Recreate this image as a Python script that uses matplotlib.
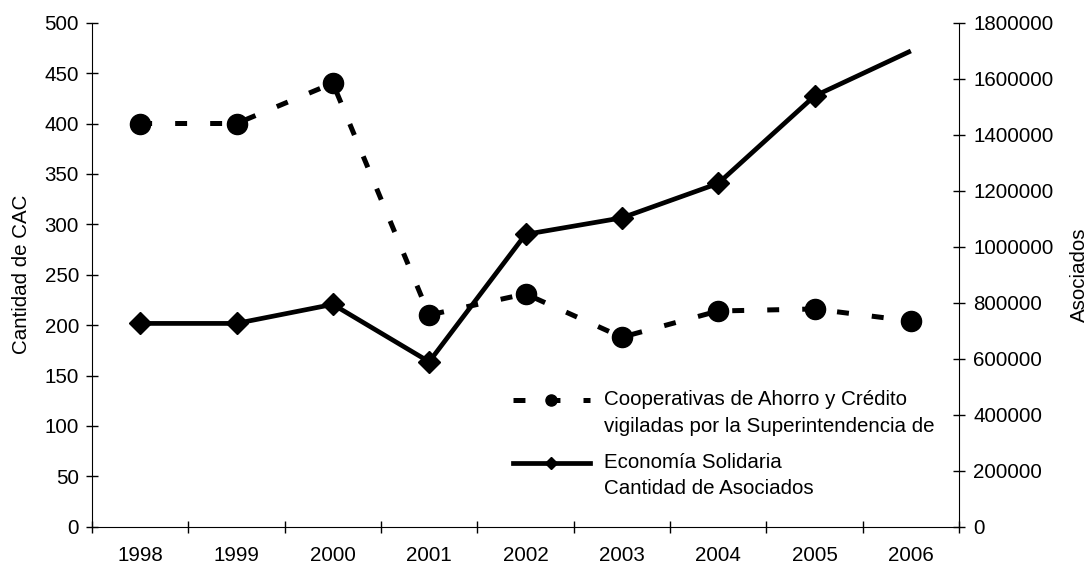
import matplotlib
matplotlib.use("Agg")
import matplotlib.pyplot as plt
from matplotlib.lines import Line2D
import numpy as np

plt.rcParams["font.family"] = ["Liberation Sans", "DejaVu Sans"]
plt.rcParams["font.size"] = 14.8
plt.rcParams["lines.scale_dashes"] = False

years = ["1998", "1999", "2000", "2001", "2002", "2003", "2004", "2005", "2006"]
cac_count = [400, 400, 440, 210, 231, 188, 214, 216, 204]
associates = [726000, 726000, 794000, 589000, 1044000, 1103000, 1226000, 1538000, 1699000]

label_cac = "Cooperativas de Ahorro y Crédito\nvigiladas por la Superintendencia de"
label_asoc = "Economía Solidaria\nCantidad de Asociados"

fig = plt.figure(figsize=(10.89, 5.67), dpi=100)
ax = fig.add_axes([92 / 1089, 1 - 526.7 / 567, (959 - 92) / 1089, (526.7 - 22.7) / 567])
ax2 = ax.twinx()

x = np.arange(len(years))
dash = (0, (8.6, 16.6))

ax.plot(x, cac_count, color="black", lw=3.6, linestyle=dash,
        marker="o", markersize=14.5, zorder=3)
ax2.plot(x, associates, color="black", lw=3.4, solid_capstyle="butt",
         marker="D", markersize=11.5, markevery=list(range(len(years) - 1)), zorder=3)

ax.set_xlim(-0.5, len(years) - 0.5)
ax.set_ylim(0, 500)
ax.set_yticks(np.arange(0, 501, 50))
ax2.set_ylim(0, 1800000)
ax2.set_yticks(np.arange(0, 1800001, 200000))
ax2.set_yticklabels([f"{v:d}" for v in range(0, 1800001, 200000)])

ax.set_xticks(np.arange(-0.5, len(years), 1.0))
ax.set_xticklabels([])
ax.set_xticks(x, minor=True)
ax.set_xticklabels(years, minor=True)
ax.tick_params(axis="x", which="major", direction="inout", length=12 * 0.72, width=1)
ax.tick_params(axis="x", which="minor", length=0, pad=14)
ax.tick_params(axis="y", direction="inout", length=12 * 0.72, width=1, pad=5)
ax2.tick_params(axis="y", direction="inout", length=12 * 0.72, width=1, pad=6)

for a in (ax, ax2):
    a.spines["top"].set_visible(False)
    a.patch.set_visible(False)
ax.spines["right"].set_visible(False)
ax2.spines["left"].set_visible(False)
ax2.spines["bottom"].set_visible(False)

ax.set_ylabel("Cantidad de CAC", labelpad=10)
ax2.set_ylabel("Asociados", labelpad=12)

# legend drawn in axes coordinates
def ax_frac(px, py):
    return ((px - 92) / (959 - 92), (526.7 - py) / (526.7 - 22.7))

hx0, _ = ax_frac(513, 0)
hx1, _ = ax_frac(590, 0)
hxm, _ = ax_frac(551, 0)
tx, _ = ax_frac(604, 0)
_, y1 = ax_frac(0, 400)
_, y2 = ax_frac(0, 463)
_, t1 = ax_frac(0, 390)
_, t2 = ax_frac(0, 453)

ax.add_line(Line2D([hx0, hx1], [y1, y1], transform=ax.transAxes, color="black",
                   lw=3.6, linestyle=(0, (8.6, 16.6)), clip_on=False))
ax.add_line(Line2D([hxm], [y1], transform=ax.transAxes, color="black",
                   marker="o", markersize=8, clip_on=False))
ax.add_line(Line2D([hx0, hx1], [y2, y2], transform=ax.transAxes, color="black",
                   lw=3.4, clip_on=False))
ax.add_line(Line2D([hxm], [y2], transform=ax.transAxes, color="black",
                   marker="D", markersize=6, clip_on=False))
ax.text(tx, t1, label_cac, transform=ax.transAxes, ha="left", va="top",
        linespacing=1.5)
ax.text(tx, t2, label_asoc, transform=ax.transAxes, ha="left", va="top",
        linespacing=1.5)

fig.savefig("out.png", dpi=100)
